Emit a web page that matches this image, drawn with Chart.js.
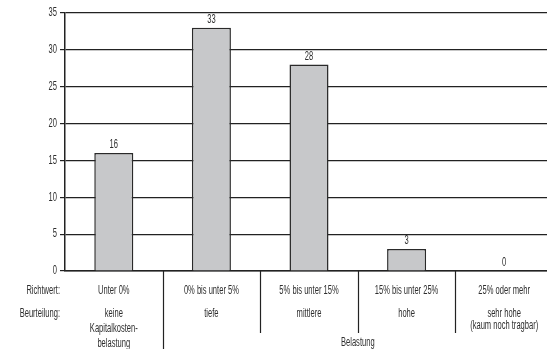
<!DOCTYPE html>
<html lang="de">
<head>
<meta charset="UTF-8">
<title>Belastung</title>
<script src="https://cdn.jsdelivr.net/npm/chart.js"></script>
<style>
    body { margin: 0; overflow: hidden; background: #fff; }
    .chart-container { position: relative; width: 553px; height: 349px; }
</style>
</head>
<body>
<div class="chart-container">
    <canvas id="myChart"></canvas>
</div>
<script>
    const FONT = "'Liberation Sans', Arial, sans-serif";
    const TEXT_COLOR = '#2e2e2e';
    const SQUEEZE = 0.63; // condensed look

    // data
    const categories = ['Unter 0%', '0% bis unter 5%', '5% bis unter 15%', '15% bis unter 25%', '25% oder mehr'];
    const values = [16, 33, 28, 3, 0];
    const ratings = [
        ['keine', 'Kapitalkosten-', 'belastung'],
        ['tiefe'],
        ['mittlere'],
        ['hohe'],
        ['sehr hohe', '(kaum noch tragbar)']
    ];
    const yTicks = [0, 5, 10, 15, 20, 25, 30, 35];

    // draws narrow text, align: 'left' | 'center' | 'right'
    function narrowText(c, txt, x, y, align) {
        c.save();
        c.translate(x, y);
        c.scale(SQUEEZE, 1);
        c.textAlign = align;
        c.fillText(txt, 0, 0);
        c.restore();
    }

    // value labels above bars + y tick labels
    const valueLabels = {
        id: 'valueLabels',
        afterDatasetsDraw(chart) {
            const c = chart.ctx;
            const meta = chart.getDatasetMeta(0);
            const y = chart.scales.y;
            c.save();
            c.font = '12px ' + FONT;
            c.fillStyle = TEXT_COLOR;
            c.textBaseline = 'bottom';
            meta.data.forEach((bar, i) => {
                narrowText(c, String(values[i]), bar.x, bar.y - 2, 'center');
            });
            c.textBaseline = 'middle';
            yTicks.forEach(v => narrowText(c, String(v), 57, y.getPixelForValue(v), 'right'));
            c.restore();
        }
    };

    // table under the axis
    const tableRows = {
        id: 'tableRows',
        afterDraw(chart) {
            const c = chart.ctx;
            const x = chart.scales.x;
            const bottom = chart.chartArea.bottom;
            const step = x.getPixelForValue(1) - x.getPixelForValue(0);
            c.save();
            c.strokeStyle = '#222';
            c.lineWidth = 1.2;
            for (let i = 0; i < categories.length - 1; i++) {
                const px = Math.round(x.getPixelForValue(i) + step / 2) + 0.5;
                c.beginPath();
                c.moveTo(px, bottom);
                c.lineTo(px, i === 0 ? chart.height : bottom + 62);
                c.stroke();
            }
            c.font = '12px ' + FONT;
            c.fillStyle = TEXT_COLOR;
            c.textBaseline = 'middle';
            narrowText(c, 'Richtwert:', 60, bottom + 20, 'right');
            narrowText(c, 'Beurteilung:', 60, bottom + 43, 'right');
            categories.forEach((cat, i) => {
                const px = x.getPixelForValue(i);
                narrowText(c, cat, px, bottom + 20, 'center');
                const lines = ratings[i];
                const gap = lines.length === 2 ? 12 : 15;
                lines.forEach((l, j) => narrowText(c, l, px, bottom + 43 + j * gap, 'center'));
            });
            const mid = (x.getPixelForValue(1) + x.getPixelForValue(4)) / 2;
            narrowText(c, 'Belastung', mid, bottom + 72, 'center');
            c.restore();
        }
    };

    const ctx = document.getElementById('myChart');
    const chart = new Chart(ctx, {
        type: 'bar',
        data: {
            labels: categories,
            datasets: [{
                data: values,
                backgroundColor: '#c7c8ca',
                borderColor: '#2a2a2a',
                borderWidth: 1.5,
                barPercentage: 0.4,
                categoryPercentage: 1
            }]
        },
        options: {
            animation: false,
            responsive: true,
            maintainAspectRatio: false,
            events: [],
            layout: { padding: { top: 13, bottom: 70, left: 0, right: 0 } },
            plugins: { legend: { display: false }, tooltip: { enabled: false } },
            scales: {
                x: {
                    grid: { display: false },
                    ticks: { display: false },
                    border: { color: '#222', width: 1.5 }
                },
                y: {
                    min: 0,
                    max: 35,
                    afterBuildTicks: (s) => { s.ticks = yTicks.map(v => ({ value: v })); },
                    afterFit: (s) => { s.width = 65; },
                    ticks: { callback: () => '' },
                    grid: { color: '#222', lineWidth: 1.2, tickLength: 5 },
                    border: { color: '#222', width: 1.5 }
                }
            }
        },
        plugins: [valueLabels, tableRows]
    });
</script>
</body>
</html>
